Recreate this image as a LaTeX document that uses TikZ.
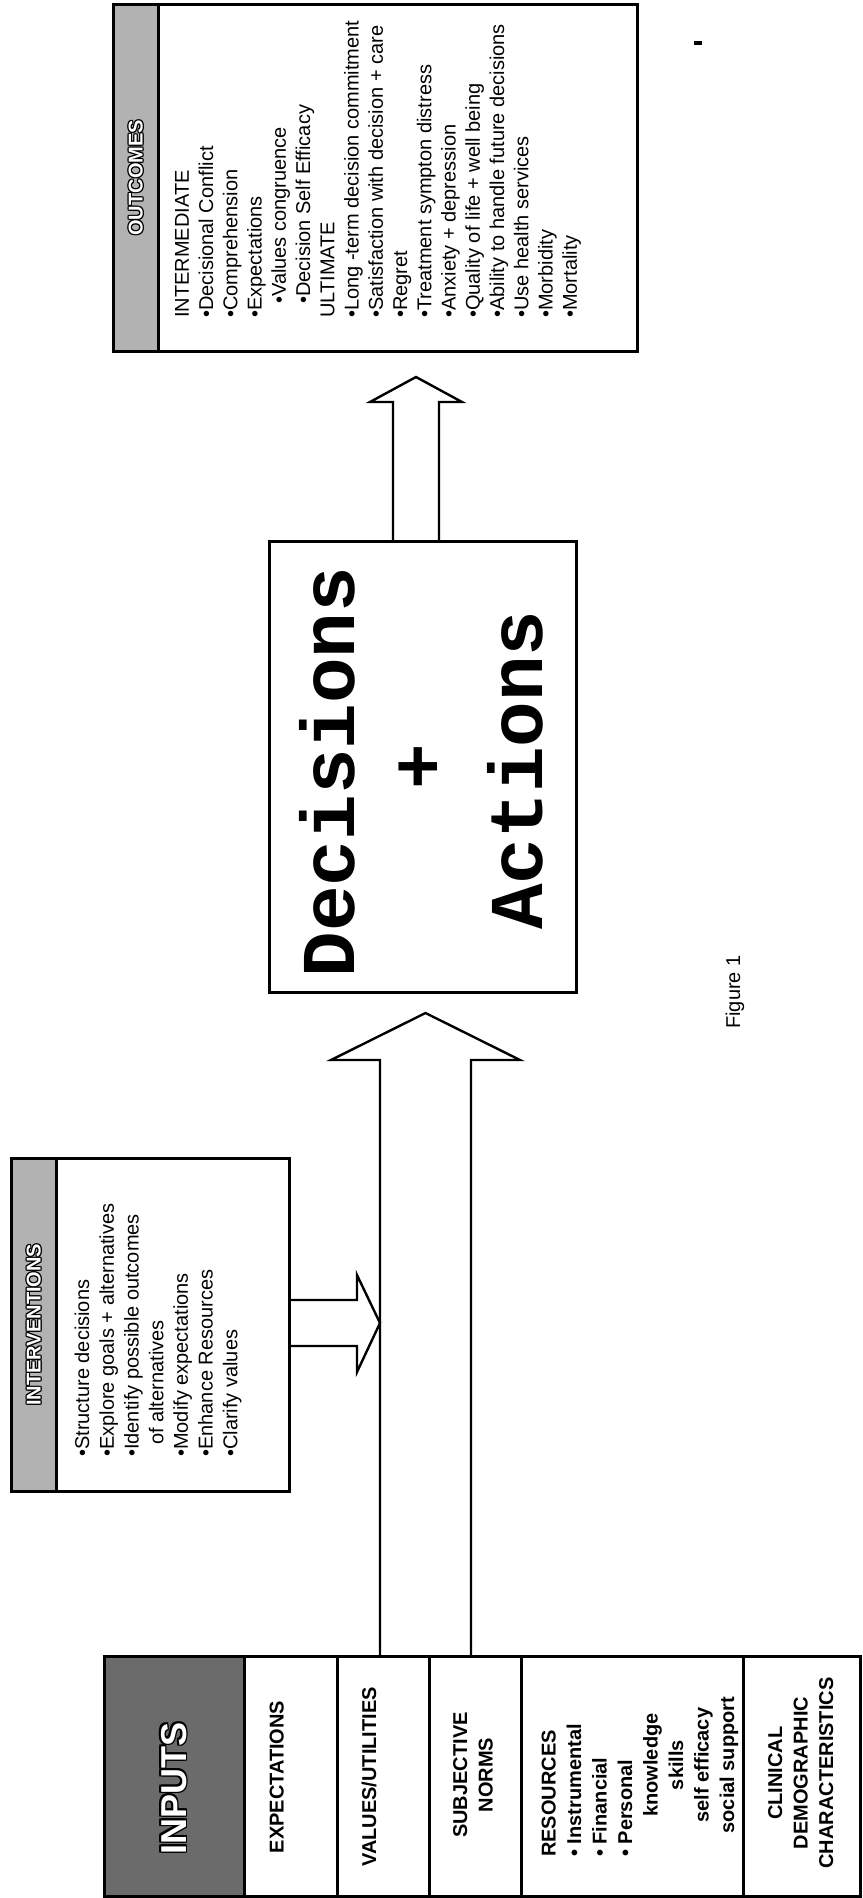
\documentclass[tikz,border=0pt]{standalone}
\usepackage{fontspec}
\setmainfont{Liberation Sans}
\newfontfamily\monofam{Liberation Mono}
\newcommand{\hdrtext}[2]{\leavevmode
  \rlap{\textcolor{black}{\hspace*{#1}#2}}%
  \rlap{\textcolor{black}{\hspace*{-#1}#2}}%
  \rlap{\textcolor{black}{\raisebox{#1}{#2}}}%
  \rlap{\textcolor{black}{\raisebox{-#1}{#2}}}%
  \rlap{\textcolor{black}{\hspace*{#1}\raisebox{#1}{#2}}}%
  \rlap{\textcolor{black}{\hspace*{-#1}\raisebox{#1}{#2}}}%
  \rlap{\textcolor{black}{\hspace*{#1}\raisebox{-#1}{#2}}}%
  \rlap{\textcolor{black}{\hspace*{-#1}\raisebox{-#1}{#2}}}%
  \textcolor{white}{#2}}
\begin{document}
\begin{tikzpicture}[x=1pt,y=-1pt,
  frame/.style={draw=black, line width=2.6pt, fill=white, rectangle, inner sep=0pt, anchor=north west},
  lab/.style={rotate=90, inner sep=0pt, font=\fontsize{20}{25.5}\selectfont\bfseries, align=center},
  item/.style={rotate=90, inner sep=0pt, align=left, anchor=north west},
  bigtext/.style={rotate=90, inner sep=0pt, font=\monofam\bfseries\fontsize{76}{80}\selectfont},
  blockarrow/.style={draw=black, line width=2.4pt, line join=miter, line cap=butt}]
\useasboundingbox (0,0) rectangle (862,1898);
\fill[white] (0,0) rectangle (862,1898);

% ---------- INPUTS table ----------
\node[frame, fill=black!58, minimum width=140pt, minimum height=240pt] (inputs) at (103,1655) {};
\node[frame, minimum width=93pt, minimum height=240pt] (expect) at (243,1655) {};
\node[frame, minimum width=92pt, minimum height=240pt] (values) at (336,1655) {};
\node[frame, minimum width=92pt, minimum height=240pt] (subj) at (428,1655) {};
\node[frame, minimum width=222pt, minimum height=240pt] (resources) at (520,1655) {};
\node[frame, minimum width=117pt, minimum height=240pt] (clinical) at (742,1655) {};

\node[rotate=90, inner sep=0pt, font=\fontsize{36}{40}\selectfont\bfseries] (inputsT) at (174,1788) {\hdrtext{1.4pt}{INPUTS}};
\node[lab, anchor=north] (expectT) at (269.5,1777) {EXPECTATIONS};
\node[lab, anchor=north] (valuesT) at (361.5,1777) {VALUES/UTILITIES};
\node[lab, anchor=north] (subjT) at (453,1775) {SUBJECTIVE\\NORMS};
\node[lab, anchor=north west, align=left] (resT) at (541.5,1857) {RESOURCES\\• Instrumental\\• Financial\\• Personal};
\node[lab, anchor=north] (resT2) at (643,1765) {knowledge\\skills\\self efficacy\\social support};
\node[lab, anchor=north] (clinT) at (768,1773) {CLINICAL\\DEMOGRAPHIC\\CHARACTERISTICS};

% ---------- INTERVENTIONS ----------
\node[frame, minimum width=278pt, minimum height=333pt] (interv) at (10,1157) {};
\node[frame, fill=black!30, minimum width=45pt, minimum height=333pt] (intervH) at (10,1157) {};
\node[rotate=90, inner sep=0pt, font=\fontsize{20}{24}\selectfont\bfseries] (intervT) at (intervH.center) {\hdrtext{1pt}{INTERVENTIONS}};
\node[item, font=\fontsize{20}{24.7}\selectfont] (intervL) at (74.5,1457)
  {•Structure decisions\\•Explore goals + alternatives\\•Identify possible outcomes\\\hspace*{12pt}of alternatives\\•Modify expectations\\•Enhance Resources\\•Clarify values};

% ---------- OUTCOMES ----------
\node[frame, minimum width=524pt, minimum height=347pt] (outc) at (112,3) {};
\node[frame, fill=black!30, minimum width=45pt, minimum height=347pt] (outcH) at (112,3) {};
\node[rotate=90, inner sep=0pt, font=\fontsize{20}{24}\selectfont\bfseries] (outcT) at (outcH.center) {\hdrtext{1pt}{OUTCOMES}};
\node[item, font=\fontsize{20}{24.25}\selectfont] (outcL) at (175,318)
  {INTERMEDIATE\\•Decisional Conflict\\•Comprehension\\•Expectations\\\hspace*{14pt}•Values congruence\\\hspace*{14pt}•Decision Self Efficacy\\ULTIMATE\\•Long -term decision commitment\\•Satisfaction with decision + care\\•Regret\\•Treatment sympton distress\\•Anxiety + depression\\•Quality of life + well being\\•Ability to handle future decisions\\•Use health services\\•Morbidity\\•Mortality};

% ---------- DECISIONS + ACTIONS ----------
\node[frame, minimum width=307pt, minimum height=451pt] (dec) at (268,540) {};
\node[bigtext] (decT1) at (327,772) {Decisions};
\node[bigtext] (decT2) at (421,767) {+};
\node[bigtext] (decT3) at (515,770) {Actions};

\node[rotate=90, inner sep=0pt, font=\fontsize{20}{24}\selectfont] (fig) at (735,992) {Figure 1};

% ---------- block arrows ----------
\draw[blockarrow] (380,0 |- values.north) -- (380,1060) -- (331,1060) -- (425.5,1013) -- (520,1060) -- (471,1060) -- (471,0 |- values.north);
\draw[blockarrow] (interv.east |- 0,1300) -- (357,1300) -- (357,1275) -- (380,1323) -- (357,1372) -- (357,1346) -- (interv.east |- 0,1346);
\draw[blockarrow] (393,0 |- dec.north) -- (393,402) -- (370,402) -- (416,377) -- (462,402) -- (439,402) -- (439,0 |- dec.north);

% scan mark
\fill[black] (694,41) rectangle (702,45);
\end{tikzpicture}
\end{document}
